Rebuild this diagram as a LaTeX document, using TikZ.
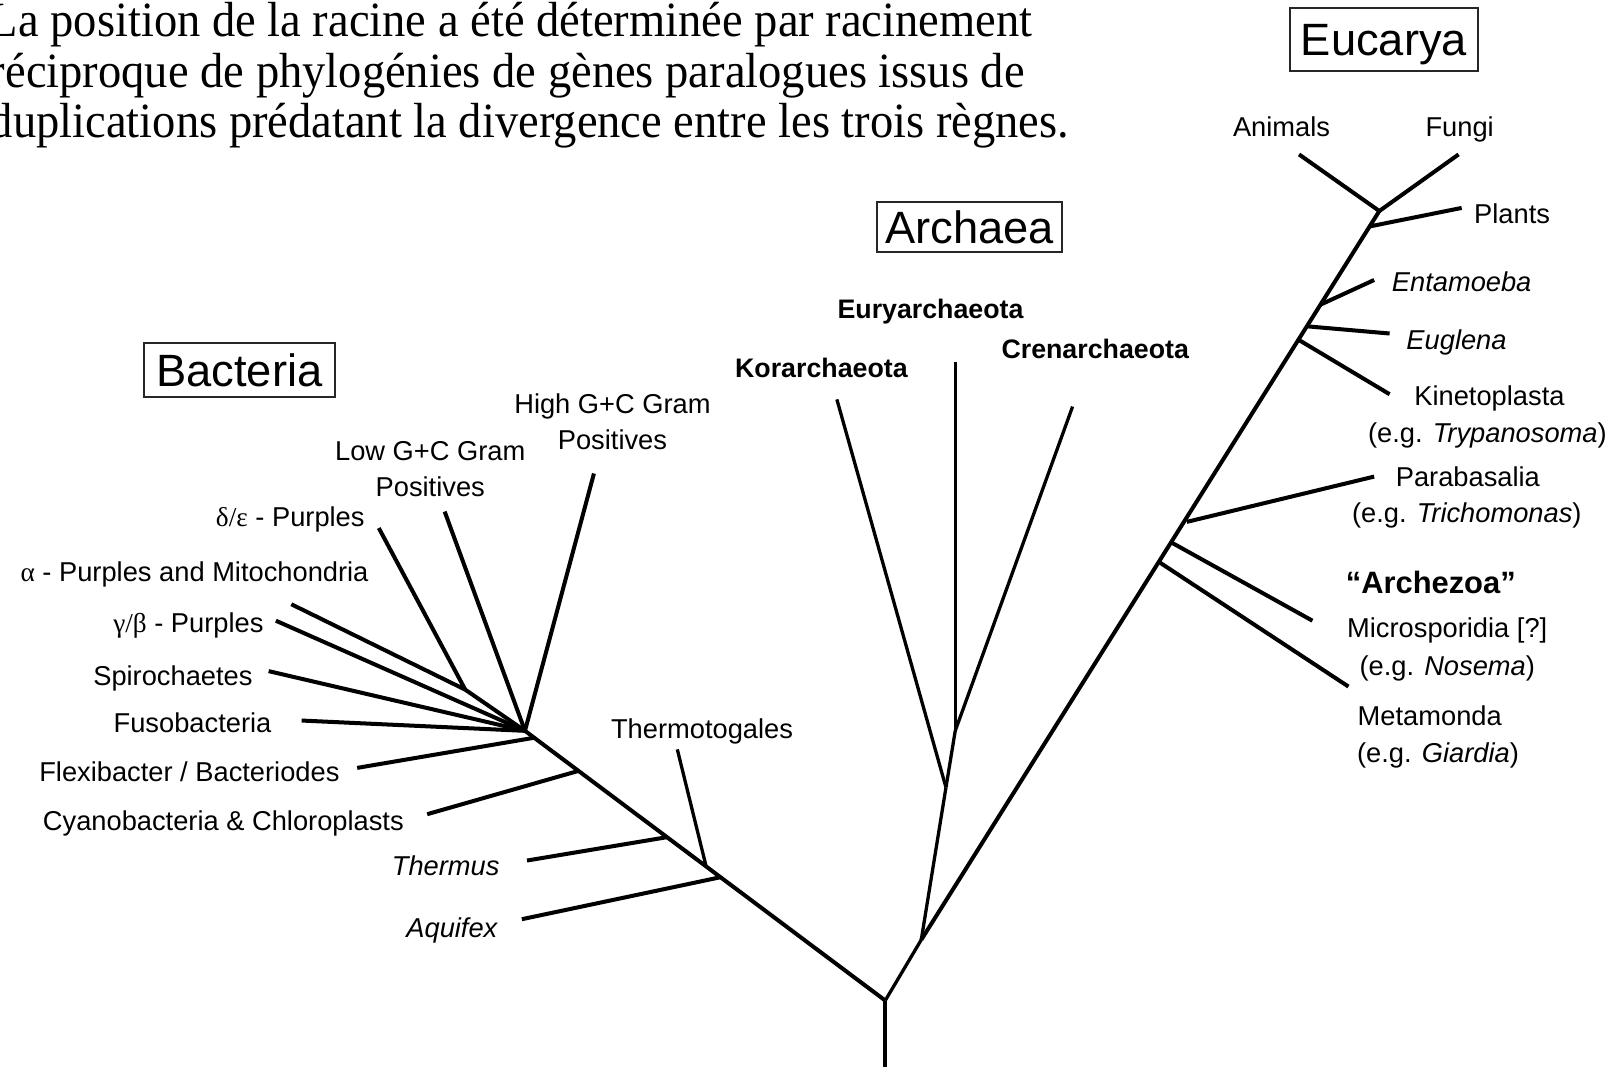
\documentclass[tikz,border=0pt]{standalone}
\usepackage{fontspec}
\setmainfont{Liberation Serif}
\setsansfont{Liberation Sans}
\newfontfamily\greekserif{Liberation Serif}
\newcommand{\tallline}[1]{\scalebox{1}[1.06]{#1}}

\begin{document}
\begin{tikzpicture}[x=1pt,y=-1pt,
  lab/.style={font=\sffamily\fontsize{26.5}{28}\selectfont, anchor=base, inner sep=0pt},
  blab/.style={lab, font=\sffamily\bfseries\fontsize{26}{28}\selectfont},
  para/.style={font=\fontsize{45.2}{45}\selectfont, anchor=base west, inner sep=0pt},
  dombox/.style={draw=black!85, line width=2pt, inner sep=0pt,
    font=\sffamily\fontsize{44}{46}\selectfont, text height=31.5pt, text depth=0pt},
  br/.style={line width=3.9pt, line join=round},
  thin br/.style={line width=3.2pt, line join=round}
]
\useasboundingbox (0,0) rectangle (1568,1036);

% explanatory paragraph
\node[para] (p1) at (-10,35) {\tallline{La position de la racine a été déterminée par racinement}};
\node[para] (p2) at (-10,85) {\tallline{réciproque de phylogénies de gènes paralogues issus de}};
\node[para] (p3) at (-10,134) {\tallline{duplications prédatant la divergence entre les trois règnes.}};

% domain titles
\node[dombox, minimum width=183pt, minimum height=61pt] (eucbox) at (1344.5,38.5) {Eucarya};
\node[dombox, minimum width=180pt, minimum height=49pt] (arcbox) at (942,220.5) {Archaea};
\node[dombox, minimum width=185pt, minimum height=53pt] (bacbox) at (232.5,359.5) {Bacteria};

% ---------- internal nodes ----------
\coordinate (stem) at (860,1040);
\coordinate (root) at (860,972);
\coordinate (hub) at (510,710);
\coordinate (purp) at (452,670);
\coordinate (aqA) at (700,852.2);
\coordinate (tgA) at (686,841.7);
\coordinate (thA) at (648,813.3);
\coordinate (cyA) at (562,748.9);
\coordinate (flA) at (519,716.7);
\coordinate (ae) at (895,913);
\coordinate (a1) at (919,765);
\coordinate (a2) at (928,710);
\coordinate (etop) at (1340,205);
\coordinate (mtA) at (1126,546);
\coordinate (miA) at (1138,527);
\coordinate (paA) at (1153,507);
\coordinate (kiA) at (1261.4,330);
\coordinate (egA) at (1269.6,317);
\coordinate (enA) at (1282.8,296);
\coordinate (plA) at (1330.5,220);

% ---------- leaf ends ----------
\coordinate (aqL) at (507,893);
\coordinate (thL) at (512,836);
\coordinate (tgL) at (658,728);
\coordinate (cyL) at (415,791);
\coordinate (flL) at (347,746);
\coordinate (fuL) at (293,700);
\coordinate (spL) at (261,652);
\coordinate (gbL) at (268,603);
\coordinate (alL) at (283,587);
\coordinate (deL) at (368,513);
\coordinate (loL) at (432,497);
\coordinate (hiL) at (577,460);
\coordinate (koL) at (813,388);
\coordinate (euL) at (928,352);
\coordinate (crL) at (1042,395);
\coordinate (mtL) at (1310,667);
\coordinate (miL) at (1275,603);
\coordinate (paL) at (1335,463);
\coordinate (kiL) at (1350,383);
\coordinate (egL) at (1350,324);
\coordinate (enL) at (1335,272);
\coordinate (plL) at (1420,202);
\coordinate (anL) at (1262,150);
\coordinate (fgL) at (1417,150);

% ---------- branches ----------
\draw[br] (stem) -- (root);
% Bacteria
\draw[br] (root) -- (hub);
\draw[br] (aqA) -- (aqL);
\draw[thin br] (tgA) -- (tgL);
\draw[br] (thA) -- (thL);
\draw[br] (cyA) -- (cyL);
\draw[br] (flA) -- (flL);
\draw[br] (hub) -- (fuL);
\draw[br] (hub) -- (spL);
\draw[br] (hub) -- (gbL);
\draw[br] (hub) -- (purp);
\draw[br] (purp) -- (alL);
\draw[br] (purp) -- (deL);
\draw[br] (hub) -- (loL);
\draw[br] (hub) -- (hiL);
% Archaea
\draw[thin br] (root) -- (ae);
\draw[thin br] (ae) -- (a1);
\draw[thin br] (a1) -- (koL);
\draw[thin br] (a1) -- (a2);
\draw[line width=2.6pt] (a2) -- (euL);
\draw[thin br] (a2) -- (crL);
% Eucarya
\draw[br] (ae) -- (etop);
\draw[br] (mtA) -- (mtL);
\draw[br] (miA) -- (miL);
\draw[br] (paA) -- (paL);
\draw[br] (kiA) -- (kiL);
\draw[br] (egA) -- (egL);
\draw[br] (enA) -- (enL);
\draw[br] (plA) -- (plL);
\draw[br] (etop) -- (anL);
\draw[br] (etop) -- (fgL);

% ---------- Bacteria labels ----------
\node[lab] (hi1) at (595,401.5) {High G+C Gram};
\node[lab] (hi2) at (595,436.5) {Positives};
\node[lab] (lo1) at (418,447.5) {Low G+C Gram};
\node[lab] (lo2) at (418,482.5) {Positives};
\node[lab] (de) at (282,511.5) {{\greekserif δ/ε} - Purples};
\node[lab] (al) at (189,564.5) {{\greekserif α} - Purples and Mitochondria};
\node[lab] (gb) at (183,614.5) {{\greekserif γ/β} - Purples};
\node[lab] (sp) at (168,665.5) {Spirochaetes};
\node[lab] (fu) at (187,711.5) {Fusobacteria};
\node[lab] (fl) at (184,759.5) {Flexibacter / Bacteriodes};
\node[lab] (cy) at (217,806.5) {Cyanobacteria \& Chloroplasts};
\node[lab] (th) at (433,850.5) {\itshape Thermus};
\node[lab] (aq) at (439,910.5) {\itshape Aquifex};
\node[lab] (tg) at (682,717.5) {Thermotogales};

% ---------- Archaea labels ----------
\node[blab] (eu) at (904,309.5) {Euryarchaeota};
\node[blab] (ko) at (798,366.5) {Korarchaeota};
\node[blab] (cr) at (1064,348.5) {Crenarchaeota};

% ---------- Eucarya labels ----------
\node[lab] (an) at (1245,132.5) {Animals};
\node[lab] (fg) at (1418,132.5) {Fungi};
\node[lab] (pl) at (1469,217.5) {Plants};
\node[lab] (en) at (1420,283.5) {\itshape Entamoeba};
\node[lab] (eg) at (1415,339.5) {\itshape Euglena};
\node[lab] (ki1) at (1447,393.5) {Kinetoplasta};
\node[lab] (ki2) at (1445,429.5) {(e.g. \textit{Trypanosoma})};
\node[lab] (pa1) at (1426,472.5) {Parabasalia};
\node[lab] (pa2) at (1425,507.5) {(e.g. \textit{Trichomonas})};
\node[lab, font=\sffamily\bfseries\fontsize{30}{32}\selectfont] (az) at (1390,576.5) {“Archezoa”};
\node[lab] (mi1) at (1406,619.5) {Microsporidia [?]};
\node[lab] (mi2) at (1406,656.5) {(e.g. \textit{Nosema})};
\node[lab] (mt1) at (1389,704.5) {Metamonda};
\node[lab] (mt2) at (1397,740.5) {(e.g. \textit{Giardia})};
\end{tikzpicture}
\end{document}
